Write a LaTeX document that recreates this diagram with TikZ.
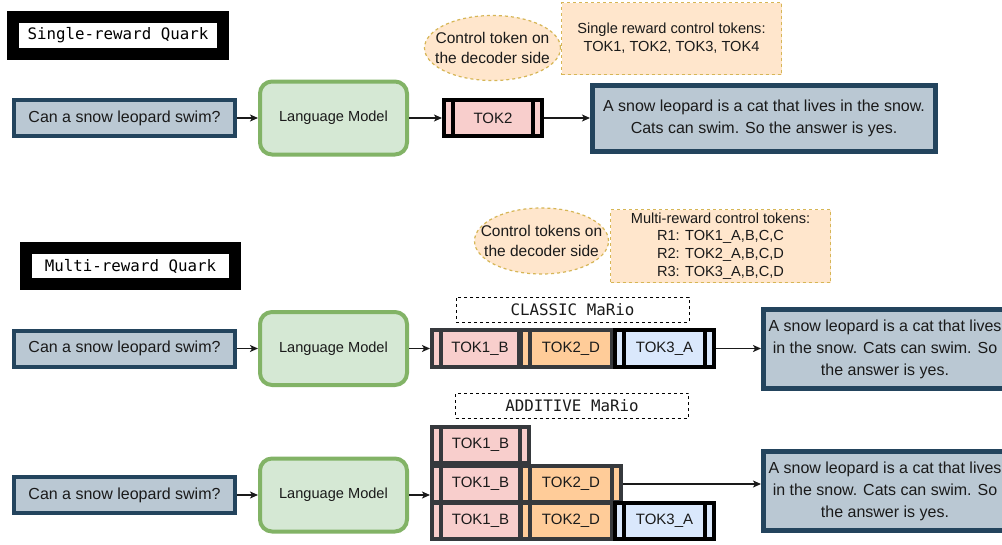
\documentclass[tikz,border=0pt]{standalone}
\usepackage{fontspec}
\setmainfont{Liberation Sans}
\setmonofont{DejaVu Sans Mono}
\usetikzlibrary{arrows.meta,shapes.geometric,calc}
\definecolor{qfill}{HTML}{BAC8D3}
\definecolor{qdraw}{HTML}{23445D}
\definecolor{lmfill}{HTML}{D5E8D4}
\definecolor{lmdraw}{HTML}{82B366}
\definecolor{pinkf}{HTML}{F8CECC}
\definecolor{orangef}{HTML}{FFCC99}
\definecolor{bluef}{HTML}{DAE8FC}
\definecolor{creamf}{HTML}{FFE6CC}
\definecolor{creamd}{HTML}{D6B656}
\definecolor{tokd}{HTML}{36393D}
\definecolor{txt}{HTML}{1A1A1A}
\tikzset{
 qbox/.style={rectangle, fill=qfill, draw=qdraw, line width=4pt, minimum width=221pt, minimum height=36pt, inner sep=0pt, font=\fontsize{16}{20}\selectfont, text=txt},
 lmbox/.style={rectangle, rounded corners=12pt, fill=lmfill, draw=lmdraw, line width=4pt, minimum width=147pt, minimum height=73pt, inner sep=0pt, font=\fontsize{14.6}{18}\selectfont, text=txt},
 ansbox/.style={rectangle, fill=qfill, draw=qdraw, line width=5pt, inner sep=0pt, align=center, font=\fontsize{16}{22}\selectfont, text=txt},
 titlebox/.style={rectangle, fill=white, draw=black, line width=12pt, minimum width=210pt, minimum height=37pt, inner sep=0pt, font=\ttfamily\fontsize{15.8}{18}\selectfont},
 notebox/.style={rectangle, fill=creamf, draw=creamd, line width=1.2pt, dash pattern=on 3pt off 3pt, inner sep=0pt, align=center, font=\fontsize{14.6}{17.8}\selectfont, text=txt, minimum width=220pt},
 noteell/.style={ellipse, fill=creamf, draw=creamd, line width=1.2pt, dash pattern=on 3pt off 3pt, inner sep=0pt},
 elltext/.style={align=center, font=\fontsize{15.5}{20}\selectfont, text=txt, inner sep=0pt},
 modebox/.style={rectangle, fill=white, draw=black, line width=0.9pt, dash pattern=on 3pt off 3pt, minimum width=233pt, minimum height=25pt, inner sep=0pt, font=\ttfamily\fontsize{15.8}{18}\selectfont, text=txt},
 tok/.style={rectangle, line width=4pt, inner sep=0pt, font=\fontsize{15}{18}\selectfont, text=txt},
 tokline/.style={line width=4pt},
 arr/.style={line width=1.3pt, draw=txt, -{Stealth[length=8pt,width=7pt,inset=2pt]}},
}
% name, cx, cy, width, height, fill, stroke, text
\newcommand\tokbox[8]{%
 \node[tok, fill=#6, draw=#7, minimum width=#4pt, minimum height=#5pt] (#1) at (#2,#3) {#8};
 \draw[tokline, draw=#7] ([xshift=11pt]#1.north west) -- ([xshift=11pt]#1.south west);
 \draw[tokline, draw=#7] ([xshift=-11pt]#1.north east) -- ([xshift=-11pt]#1.south east);
}
\begin{document}
\begin{tikzpicture}[x=1pt,y=-1pt]
\useasboundingbox (0,0) rectangle (1002,544);
\clip (0,0) rectangle (1002,544);
\fill[white] (0,0) rectangle (1002,544);

% ---------- single reward ----------
\node[titlebox] (title1) at (118,35.5) {Single-reward Quark};
\node[noteell, minimum width=136pt, minimum height=65pt,
  label={[elltext]center:Control token on\\the decoder side}] (ell1) at (492.5,48) {};
\node[notebox, minimum height=72pt] (note1) at (671.5,38.5) {Single reward control tokens:\\TOK1, TOK2, TOK3, TOK4};

\node[qbox] (q1) at (124.5,118) {Can a snow leopard swim?};
\node[lmbox] (lm1) at (333.5,118) {Language Model};
\tokbox{t2}{493}{118}{98}{36}{pinkf}{black}{TOK2}
\node[ansbox, minimum width=343pt, minimum height=66pt] (ans1) at (764,118.5)
  {A snow leopard is a cat that lives in the snow.\\Cats can swim. So the answer is yes.};

\draw[arr] (q1.east) -- (q1.east -| lm1.west);
\draw[arr] (lm1.east) -- (lm1.east -| t2.west);
\draw[arr] (t2.east) -- (t2.east -| ans1.west);

% ---------- multi reward ----------
\node[titlebox, minimum width=209pt, minimum height=36pt] (title2) at (130.5,266) {Multi-reward Quark};
\node[noteell, minimum width=134pt, minimum height=66pt,
  label={[elltext]center:Control tokens on\\the decoder side}] (ell2) at (541.5,241) {};
\node[notebox, minimum height=73pt] (note2) at (720.5,246) {Multi-reward control tokens:\\R1: TOK1\_A,B,C,C\\R2: TOK2\_A,B,C,D\\R3: TOK3\_A,B,C,D};

% classic
\node[modebox] (classic) at (572.5,309.5) {CLASSIC MaRio};
\node[qbox] (q2) at (124.5,348.5) {Can a snow leopard swim?};
\node[lmbox] (lm2) at (333.5,348.5) {Language Model};
\tokbox{c1}{480}{348.5}{96}{37}{pinkf}{tokd}{TOK1\_B}
\tokbox{c2}{571}{348.5}{100}{37}{orangef}{tokd}{TOK2\_D}
\tokbox{c3}{664.5}{348.5}{99}{37}{bluef}{black}{TOK3\_A}
\node[ansbox, minimum width=243pt, minimum height=79pt] (ans2) at (885,349)
  {A snow leopard is a cat that lives\\in the snow. Cats can swim. So\\the answer is yes.};

\draw[arr] (q2.east) -- (q2.east -| lm2.west);
\draw[arr] (lm2.east) -- (lm2.east -| c1.west);
\draw[arr] (c3.east) -- (c3.east -| ans2.west);

% additive
\node[modebox] (additive) at (572,405.5) {ADDITIVE MaRio};
\node[qbox] (q3) at (124.5,495) {Can a snow leopard swim?};
\node[lmbox] (lm3) at (333.5,495) {Language Model};
\tokbox{a11}{480.5}{445}{97}{36}{pinkf}{tokd}{TOK1\_B}
\tokbox{a21}{480.5}{484}{97}{36}{pinkf}{tokd}{TOK1\_B}
\tokbox{a22}{571}{484}{100}{36}{orangef}{tokd}{TOK2\_D}
\tokbox{a31}{480.5}{521}{97}{36}{pinkf}{tokd}{TOK1\_B}
\tokbox{a32}{571}{521}{100}{36}{orangef}{tokd}{TOK2\_D}
\tokbox{a33}{664.5}{521}{99}{36}{bluef}{black}{TOK3\_A}
\node[ansbox, minimum width=243pt, minimum height=79pt] (ans3) at (885,491)
  {A snow leopard is a cat that lives\\in the snow. Cats can swim. So\\the answer is yes.};

\draw[arr] (q3.east) -- (q3.east -| lm3.west);
\draw[arr] (lm3.east) -- (lm3.east -| a21.west);
\draw[arr] (a22.east) -- (a22.east -| ans3.west);
\end{tikzpicture}
\end{document}
